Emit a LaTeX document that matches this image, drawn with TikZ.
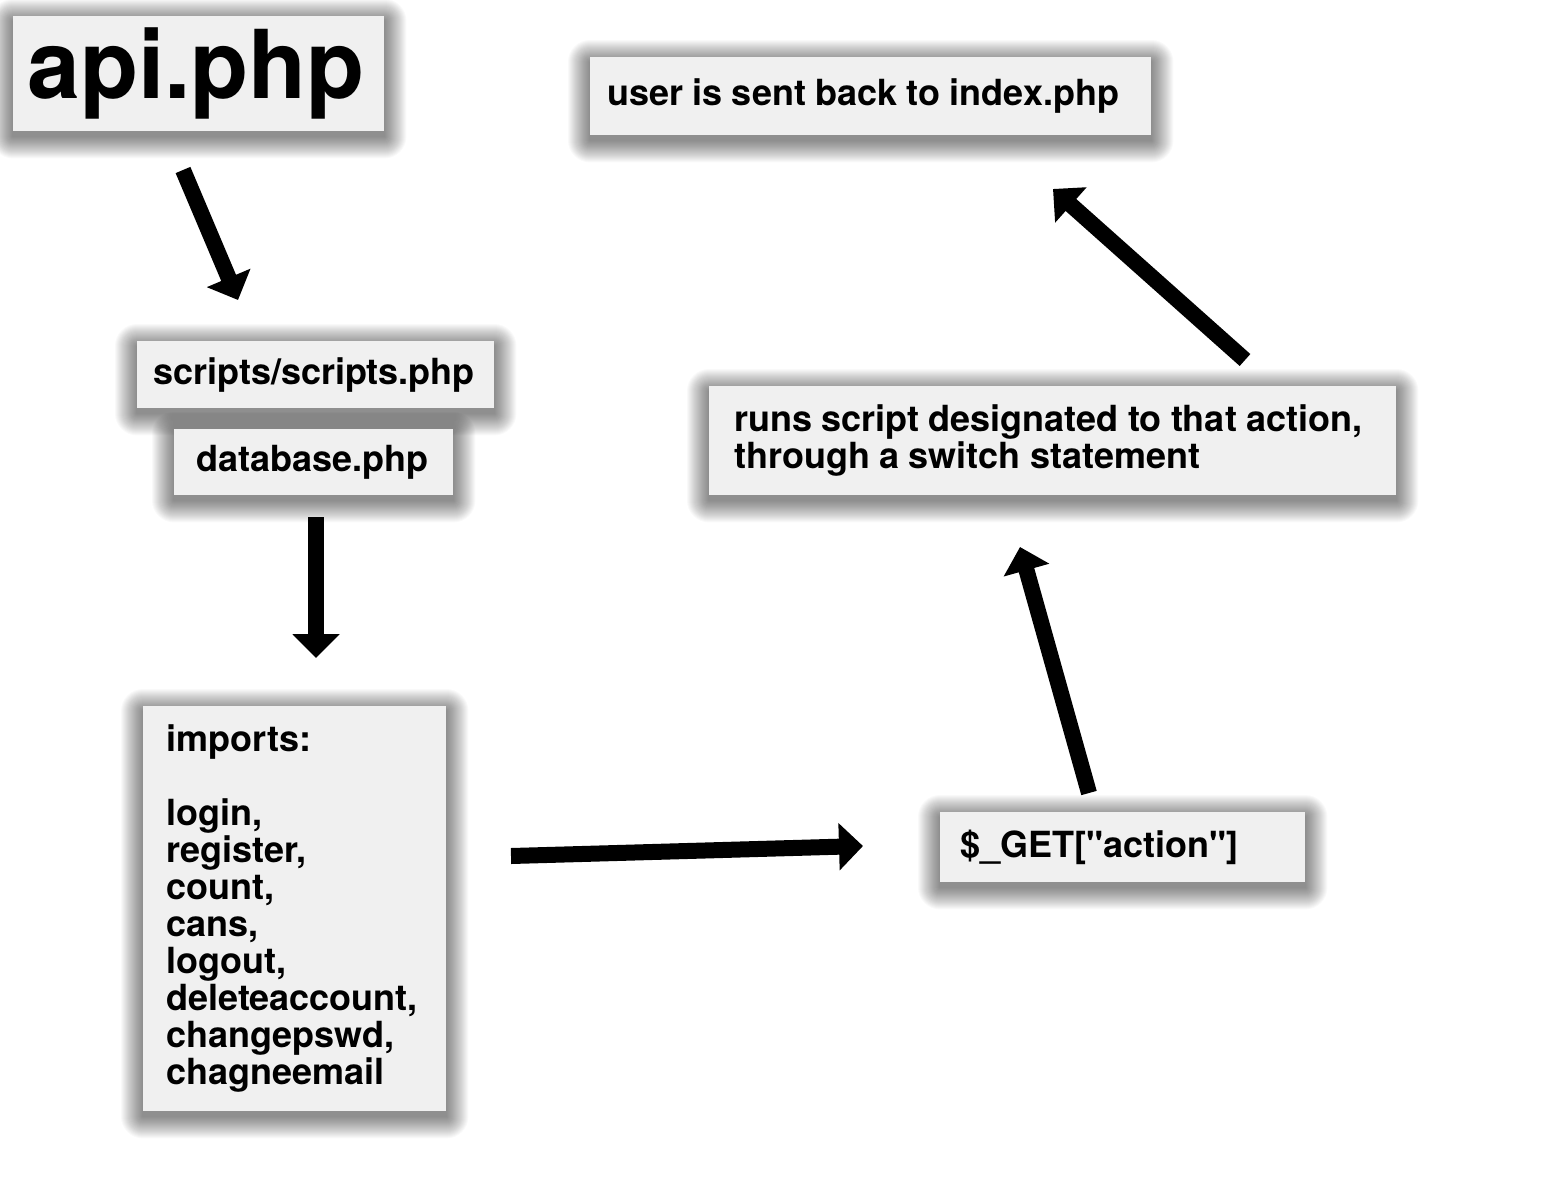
\documentclass[tikz,border=0pt]{standalone}
\usepackage{fontspec}
\setmainfont{TeX Gyre Heros}
\usetikzlibrary{
    arrows.meta,
    backgrounds
}

\begin{document}
\begin{tikzpicture}[x=1bp,y=-1bp,
    card/.style={fill=boxcolor,anchor=north west,align=left,inner ysep=0bp,
        font=\bfseries\fontsize{36bp}{37bp}\selectfont,
        execute at begin node={\spaceskip=9.36bp plus 1.8bp\relax}},
    haze/.style={black,opacity=0.022},
    flow/.style={-{Triangle[length=24bp,width=46bp]},line width=16bp,black}]
            \definecolor{boxcolor}{HTML}{F0F0F0}
            \useasboundingbox (0,0) rectangle (1546,1177);
            % boxes
            \node[card,minimum height=115bp,inner xsep=14bp,text width=343bp,
                font=\bfseries\fontsize{95bp}{96bp}\selectfont] (api) at (13,16) {api.php};
            \node[card,minimum height=78bp,inner xsep=17bp,text width=527bp] (back) at (590,57)
                {user is sent back to index.php};
            \node[card,minimum height=67bp,inner xsep=16bp,text width=325bp] (scripts) at (137,341)
                {scripts/scripts.php};
            \node[card,minimum height=66bp,inner xsep=22bp,text width=235bp] (database) at (174,429)
                {database.php};
            \node[card,minimum height=109bp,inner xsep=25bp,text width=637bp] (runs) at (709,386)
                {runs script designated to that action,\\through a switch statement};
            \node[card,minimum height=405bp,inner xsep=23bp,text width=257bp] (imports) at (143,706)
                {imports:\\[37bp]login,\\register,\\count,\\cans,\\logout,\\deleteaccount,\\changepswd,\\chagneemail};
            \node[card,minimum height=70bp,inner xsep=20bp,text width=325bp] (action) at (940,812)
                {\$\_GET[\textquotedbl action\textquotedbl]};
            % soft shadows under the boxes
            \begin{scope}[on background layer]
                \fill[white] (0,0) rectangle (1546,1177);
                \foreach \n in {api,back,scripts,database,runs,imports,action}
                    \foreach \r in {1,...,22}
                        \fill[haze,rounded corners=\r bp]
                            ([xshift=-\r bp,yshift={(\r-5)*1bp}]\n.north west) rectangle
                            ([xshift=\r bp,yshift={(-\r-5)*1bp}]\n.south east);
            \end{scope}
            % arrows
            \coordinate (apiout) at (183,170);
            \coordinate (scriptsin) at (238,300);
            \coordinate (dbout) at (316,517);
            \coordinate (importsin) at (316,658);
            \coordinate (importsout) at (511,856);
            \coordinate (actionin) at (863,846);
            \coordinate (actionout) at (1089,793);
            \coordinate (runsin) at (1020,547);
            \coordinate (runsout) at (1245,360);
            \coordinate (backin) at (1053,189);
            \draw[flow] (apiout) -- (scriptsin);
            \draw[flow] (dbout) -- (importsin);
            \draw[flow] (importsout) -- (actionin);
            \draw[flow] (actionout) -- (runsin);
            \draw[flow] (runsout) -- (backin);
        \end{tikzpicture}
\end{document}
